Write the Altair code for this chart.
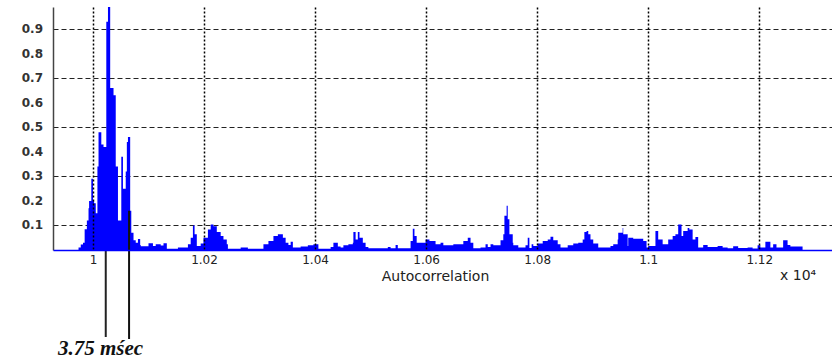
import altair as alt
import pandas as pd

# Autocorrelation envelope: lag (samples) where each step starts, and its value
lag = [
    9960, 9974, 9978, 9982, 9985, 9989, 9992, 9993, 9997, 10000,
    10002, 10005, 10008, 10010, 10015, 10019, 10024, 10027, 10031, 10037,
    10041, 10045, 10051, 10054, 10059, 10061, 10063, 10067, 10069, 10073,
    10077, 10081, 10085,
    10086, 10100, 10108, 10113, 10122, 10127, 10133, 10153, 10171, 10176,
    10180, 10183, 10187, 10194, 10199, 10207, 10212, 10217, 10223, 10230,
    10235, 10241, 10243, 10266, 10279, 10307, 10316, 10325, 10333, 10342,
    10347, 10352, 10356, 10360, 10374, 10387, 10397,
    10406, 10428, 10433, 10441, 10446, 10451, 10460, 10468, 10469, 10473,
    10477, 10480, 10486, 10491, 10496, 10531, 10536, 10545, 10549, 10572,
    10576, 10579, 10583, 10599, 10606, 10617, 10626, 10631, 10649, 10667,
    10675, 10680, 10685, 10698, 10707, 10711,
    10716, 10721, 10734, 10739, 10741, 10745, 10747, 10750, 10756, 10757,
    10766, 10779, 10783, 10786, 10790, 10793, 10801, 10810, 10819, 10824,
    10829, 10837, 10842, 10855, 10865, 10874, 10882, 10885, 10889, 10892,
    10896, 10901, 10910, 10932, 10937, 10945, 10946, 10954, 10955, 10963,
    10964, 10973, 10991, 10997, 11000, 11013, 11018, 11026, 11036, 11044,
    11049, 11054, 11060, 11063, 11071, 11074, 11080, 11085, 11090, 11099,
    11107, 11125, 11134, 11143, 11153, 11162, 11179, 11188, 11197, 11202,
    11211, 11220, 11225, 11231, 11243, 11251, 11256, 11278,
]
acf = [
    0.0, 0.01, 0.022, 0.03, 0.085, 0.12, 0.17, 0.2, 0.29, 0.2,
    0.19, 0.15, 0.34, 0.48, 0.43, 0.42, 0.93, 0.99, 0.66, 0.63,
    0.34, 0.12, 0.38, 0.25, 0.32, 0.44, 0.46, 0.16, 0.07, 0.04,
    0.03, 0.045, 0.02,
    0.015, 0.027, 0.016, 0.023, 0.018, 0.027, 0.005, 0.01, 0.023, 0.05,
    0.10, 0.064, 0.016, 0.026, 0.05, 0.084, 0.104, 0.097, 0.073, 0.057,
    0.043, 0.023, 0.005, 0.01, 0.005, 0.023, 0.037, 0.057, 0.064, 0.05,
    0.03, 0.02, 0.034, 0.01, 0.014, 0.019, 0.023,
    0.005, 0.012, 0.03, 0.014, 0.01, 0.019, 0.023, 0.03, 0.073, 0.043,
    0.073, 0.05, 0.03, 0.012, 0.007, 0.012, 0.007, 0.02, 0.007, 0.037,
    0.087, 0.057, 0.03, 0.043, 0.037, 0.023, 0.03, 0.019, 0.023, 0.037,
    0.05, 0.03, 0.007, 0.01, 0.023, 0.012,
    0.023, 0.019, 0.04, 0.064, 0.14, 0.18, 0.125, 0.064, 0.03, 0.019,
    0.01, 0.019, 0.05, 0.008, 0.023, 0.016, 0.026, 0.037, 0.043, 0.054,
    0.04, 0.023, 0.01, 0.019, 0.026, 0.03, 0.043, 0.073, 0.077, 0.064,
    0.043, 0.026, 0.01, 0.016, 0.023, 0.043, 0.07, 0.09, 0.064, 0.016,
    0.05, 0.046, 0.037, 0.01, 0.016, 0.077, 0.043, 0.023, 0.043, 0.057,
    0.064, 0.104, 0.057, 0.077, 0.09, 0.084, 0.043, 0.053, 0.01, 0.02,
    0.012, 0.016, 0.01, 0.007, 0.015, 0.008, 0.01, 0.006, 0.019, 0.01,
    0.034, 0.01, 0.023, 0.01, 0.04, 0.02, 0.014, 0.0,
]

# Period markers (lag in samples); the right one runs up to the bar it marks
marker_lag = [10023, 10065]
marker_top = 0.16

x_ticks = [10000, 10200, 10400, 10600, 10800, 11000, 11200]
y_ticks = [0.1, 0.2, 0.3, 0.4, 0.5, 0.6, 0.7, 0.8, 0.9]
y_tick_labels = ["0.1", "0.2", "0.3", "0.4", "0.5", "0.6", "0.7", "0.8", "0.9"]

W, H = 779, 243
x_scale = alt.Scale(domain=[9928, 11331], nice=False, zero=False)
y_scale = alt.Scale(domain=[0, 0.99], nice=False)

df = pd.DataFrame({"lag": lag, "acf": acf})

area = alt.Chart(df).mark_area(
    interpolate="step-after", color="#0000ff", opacity=1
).encode(
    x=alt.X(
        "lag:Q", scale=x_scale, title="Autocorrelation",
        axis=alt.Axis(
            values=x_ticks,
            labelExpr="format(datum.value / 10000, '.2~f')",
            grid=True, gridDash=[2, 2], gridColor="#000000", gridWidth=1.5,
            ticks=False, domainColor="#0000ff", domainWidth=1.5,
            labelFont="DejaVu Sans", labelFontSize=12, labelColor="#222222",
            labelPadding=4, labelOverlap=False,
            titleFont="DejaVu Sans", titleFontSize=14,
            titleFontWeight="normal", titleColor="#222222", titlePadding=4,
            titleX=382, zindex=1,
        ),
    ),
    y=alt.Y(
        "acf:Q", scale=y_scale, title=None,
        axis=alt.Axis(
            values=y_ticks, labels=False,
            grid=True, gridDash=[5, 3], gridColor="#222222", gridWidth=1,
            ticks=False, domainColor="#444444", domainWidth=1.5, zindex=0,
        ),
    ),
)

# y tick labels drawn as text so every one of them stays visible
y_labels = alt.Chart(
    pd.DataFrame({"v": y_ticks, "t": y_tick_labels})
).mark_text(
    font="DejaVu Sans", fontSize=12, fontWeight="bold", align="right",
    baseline="middle", color="#333333",
).encode(
    y=alt.Y("v:Q", scale=y_scale),
    x=alt.value(-10),
    text="t:N",
)

left_rule = alt.Chart(pd.DataFrame({"lag": [marker_lag[0]]})).mark_rule(
    color="#222222", strokeWidth=2
).encode(
    x=alt.X("lag:Q", scale=x_scale),
    y=alt.value(H + 1),
    y2=alt.value(H + 87),
)

right_rule = alt.Chart(
    pd.DataFrame({"lag": [marker_lag[1]], "top": [marker_top]})
).mark_rule(color="#111111", strokeWidth=2).encode(
    x=alt.X("lag:Q", scale=x_scale),
    y=alt.Y("top:Q", scale=y_scale),
    y2=alt.value(H + 89),
)

period_label = alt.Chart(pd.DataFrame({"t": ["3.75 m\u015bec"]})).mark_text(
    font="Liberation Serif", fontSize=21, fontStyle="italic", fontWeight="bold",
    align="left", baseline="middle", color="#111111",
).encode(
    text="t:N",
    x=alt.value(5),
    y=alt.value(H + 99),
)

exponent = alt.Chart(pd.DataFrame({"t": ["x 10\u2074"]})).mark_text(
    font="DejaVu Sans", fontSize=14, align="left", baseline="middle",
    color="#222222",
).encode(
    text="t:N",
    x=alt.value(727),
    y=alt.value(H + 26),
)

chart = alt.layer(
    area, y_labels, left_rule, right_rule, period_label, exponent
).properties(
    width=W,
    height=H,
    autosize=alt.AutoSizeParams(type="none"),
    padding={"left": 53, "top": 7, "right": 0, "bottom": 113},
    background="#ffffff",
).configure_view(stroke=None)

chart.save("out.html", embed_options={"renderer": "svg", "actions": False})
